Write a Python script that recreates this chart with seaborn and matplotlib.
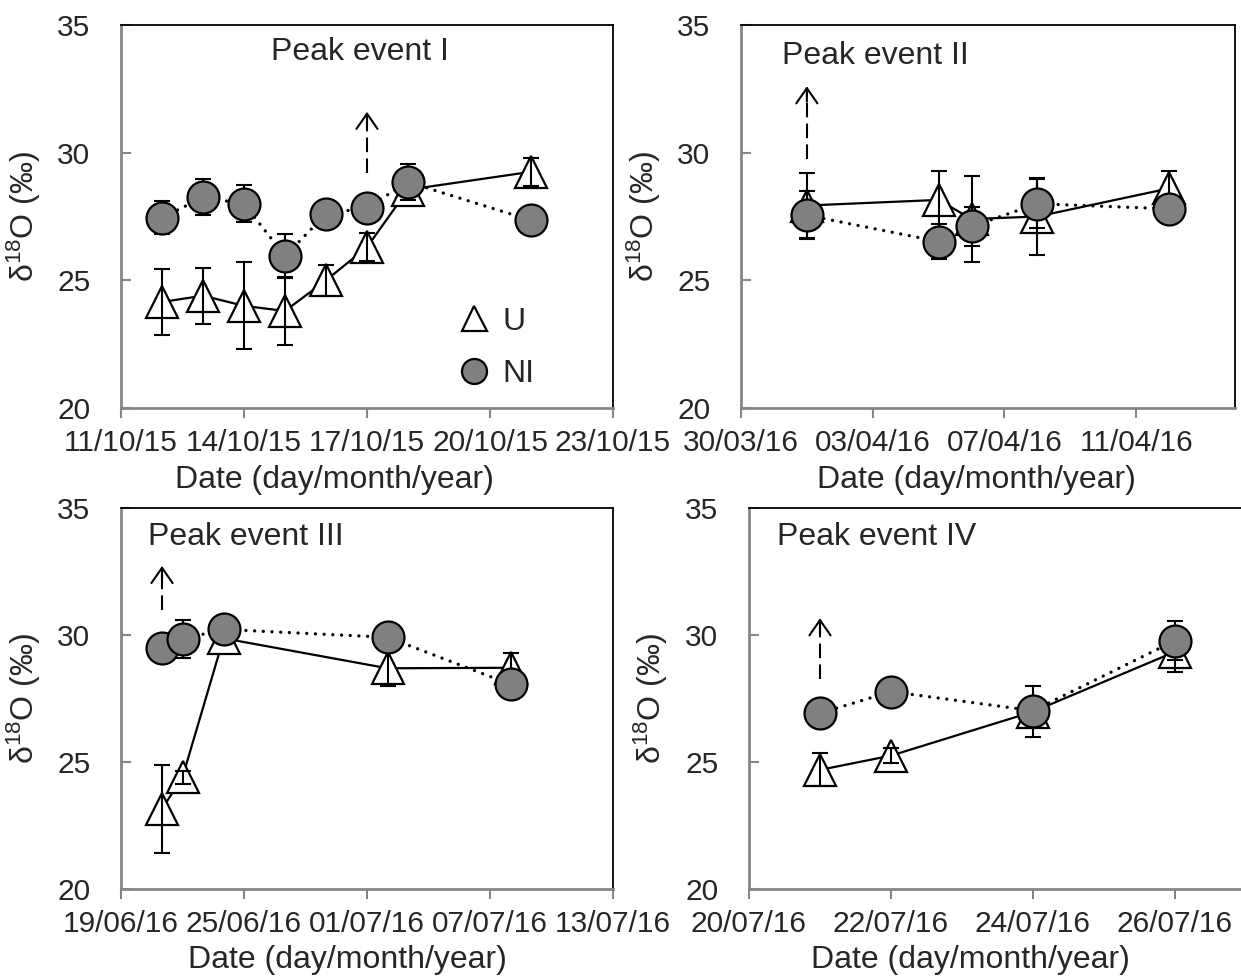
import numpy as np
import pandas as pd
import matplotlib
matplotlib.use('Agg')
import matplotlib.pyplot as plt
import matplotlib.dates as mdates
from matplotlib.lines import Line2D
import seaborn as sns

# ---- data ----
# Peak event I
p1_dates = ['2015-10-12', '2015-10-13', '2015-10-14', '2015-10-15',
            '2015-10-16', '2015-10-17', '2015-10-18', '2015-10-21']
p1_u = [24.15, 24.4, 24.0, 23.8, 25.0, 26.3, 28.55, 29.25]
p1_u_err = [1.3, 1.1, 1.7, 1.35, 0.6, 0.55, 0.15, 0.55]
p1_ni = [27.45, 28.25, 28.0, 25.95, 27.6, 27.85, 28.85, 27.35]
p1_ni_err = [0.65, 0.7, 0.72, 0.85, 0.3, 0.3, 0.7, 0.3]

# Peak event II
p2_dates = ['2016-04-01', '2016-04-05', '2016-04-06', '2016-04-08', '2016-04-12']
p2_u = [27.93, 28.15, 27.4, 27.5, 28.6]
p2_u_err = [1.27, 1.14, 1.7, 1.5, 0.67]
p2_ni = [27.55, 26.52, 27.11, 28.0, 27.8]
p2_ni_err = [0.93, 0.7, 0.75, 0.95, 0.3]

# Peak event III
p3_dates = ['2016-06-21', '2016-06-22', '2016-06-24', '2016-07-02', '2016-07-08']
p3_u = [23.15, 24.4, 29.87, 28.69, 28.71]
p3_u_err = [1.72, 0.25, 0.2, 0.7, 0.57]
p3_ni = [29.48, 29.84, 30.22, 29.91, 28.06]
p3_ni_err = [0.3, 0.75, 0.3, 0.3, 0.3]

# Peak event IV
p4_dates = ['2016-07-21', '2016-07-22', '2016-07-24', '2016-07-26']
p4_u = [24.69, 25.25, 26.98, 29.34]
p4_u_err = [0.65, 0.3, 1.0, 0.8]
p4_ni = [26.92, 27.77, 27.02, 29.78]
p4_ni_err = [0.3, 0.3, 0.3, 0.77]

titles = ['Peak event I', 'Peak event II', 'Peak event III', 'Peak event IV']
x_start = ['2015-10-11', '2016-03-30', '2016-06-19', '2016-07-20']
x_end = ['2015-10-23', '2016-04-14', '2016-07-13', '2016-07-27']
tick_step_days = [3, 4, 6, 2]

# dashed arrows (date, start value, tip value)
arrow_dates = ['2015-10-17', '2016-04-01', '2016-06-21', '2016-07-21']
arrow_from = [29.2, 29.75, 30.98, 28.26]
arrow_to = [31.6, 32.6, 32.72, 30.66]

panels = [
    (p1_dates, p1_u, p1_u_err, p1_ni, p1_ni_err),
    (p2_dates, p2_u, p2_u_err, p2_ni, p2_ni_err),
    (p3_dates, p3_u, p3_u_err, p3_ni, p3_ni_err),
    (p4_dates, p4_u, p4_u_err, p4_ni, p4_ni_err),
]

# ---- style ----
sns.set_theme(style="white")
plt.rcParams['font.family'] = ['Liberation Sans', 'DejaVu Sans']
plt.rcParams['mathtext.fontset'] = 'custom'
plt.rcParams['mathtext.rm'] = 'Liberation Sans'
plt.rcParams['mathtext.default'] = 'regular'

FS = 23
TICK_FS = 21.5
GRAY = '#868686'
NI_FILL = '#808080'

fig = plt.figure(figsize=(12.41, 9.77), dpi=100)
W, H = 1241, 977
# axes boxes in pixels: left, right, top, bottom
boxes = [(121, 613, 25, 408), (741, 1235, 25, 408),
         (121, 613, 508, 889), (749, 1246, 508, 889)]
title_pos = [(0.486, 0.93, 'center'), (0.083, 0.92, 'left'),
             (0.055, 0.925, 'left'), (0.056, 0.925, 'left')]
xlabel_x = [0.433, 0.476, 0.461, 0.445]

for i, (dates, u, u_err, ni, ni_err) in enumerate(panels):
    l, r, t, b = boxes[i]
    ax = fig.add_axes([l / W, 1 - b / H, (r - l) / W, (b - t) / H])
    d = pd.to_datetime(dates)

    # U: solid line, open triangles
    sns.lineplot(x=d, y=u, ax=ax, color='black', lw=1.6, marker='^',
                 markersize=23, markerfacecolor='white', markeredgecolor='black',
                 markeredgewidth=1.6, zorder=2)
    ax.errorbar(d, u, yerr=u_err, fmt='none', ecolor='black', elinewidth=1.5,
                capsize=6, capthick=1.5, zorder=3)

    # NI: dotted line, gray circles
    ax.errorbar(d, ni, yerr=ni_err, fmt='none', ecolor='black', elinewidth=1.5,
                capsize=6, capthick=1.5, zorder=4)
    sns.lineplot(x=d, y=ni, ax=ax, color='black', lw=2.4, linestyle=(0, (0.01, 2.6)),
                 dash_capstyle='round', marker='o', markersize=23,
                 markerfacecolor=NI_FILL, markeredgecolor='black',
                 markeredgewidth=1.6, zorder=5)

    # dashed arrow
    ad = pd.Timestamp(arrow_dates[i])
    ax.plot([ad, ad], [arrow_from[i], arrow_to[i] - 0.25], color='black', lw=1.5,
            linestyle=(0, (7, 3)), zorder=2)
    ax.annotate('', xy=(ad, arrow_to[i]), xytext=(ad, arrow_to[i] - 0.6),
                arrowprops=dict(arrowstyle='->,head_length=0.55,head_width=0.38',
                                color='black', lw=1.5, mutation_scale=20,
                                shrinkA=0, shrinkB=0))

    # axes
    ax.set_ylim(20, 35)
    ax.set_yticks([20, 25, 30, 35])
    ax.set_xlim(pd.Timestamp(x_start[i]), pd.Timestamp(x_end[i]))
    ticks = pd.date_range(x_start[i], x_end[i], freq=f'{tick_step_days[i]}D')
    ax.set_xticks(ticks)
    ax.xaxis.set_major_formatter(mdates.DateFormatter('%d/%m/%y'))

    for side in ['top', 'right']:
        ax.spines[side].set_color('black')
        ax.spines[side].set_linewidth(1.3)
    for side in ['left', 'bottom']:
        ax.spines[side].set_color(GRAY)
        ax.spines[side].set_linewidth(2)
    ax.tick_params(axis='y', direction='in', length=7, width=1.5, color=GRAY,
                   labelsize=TICK_FS, pad=22, left=True)
    ax.tick_params(axis='x', direction='out', length=7, width=1.5, color=GRAY,
                   labelsize=TICK_FS, pad=8, bottom=True)

    ax.set_xlabel('Date (day/month/year)', fontsize=FS)
    ax.xaxis.set_label_coords(xlabel_x[i], -0.148)
    ax.set_ylabel('δ$^{18}$O (‰)', fontsize=FS)
    ax.yaxis.set_label_coords(-0.158, 0.5)

    tx, ty, ha = title_pos[i]
    ax.text(tx, ty, titles[i], transform=ax.transAxes, fontsize=FS,
            ha=ha, va='center')

    if i == 0:
        handles = [
            Line2D([], [], linestyle='none', marker='^', markersize=18,
                   markerfacecolor='white', markeredgecolor='black', markeredgewidth=1.6),
            Line2D([], [], linestyle='none', marker='o', markersize=18,
                   markerfacecolor=NI_FILL, markeredgecolor='black', markeredgewidth=1.6),
        ]
        ax.legend(handles, ['U', 'NI'], loc='upper left', bbox_to_anchor=(0.62, 0.34),
                  frameon=False, fontsize=FS, handletextpad=0.3, labelspacing=0.7,
                  handlelength=1.2)

fig.savefig('out.png', dpi=100)
